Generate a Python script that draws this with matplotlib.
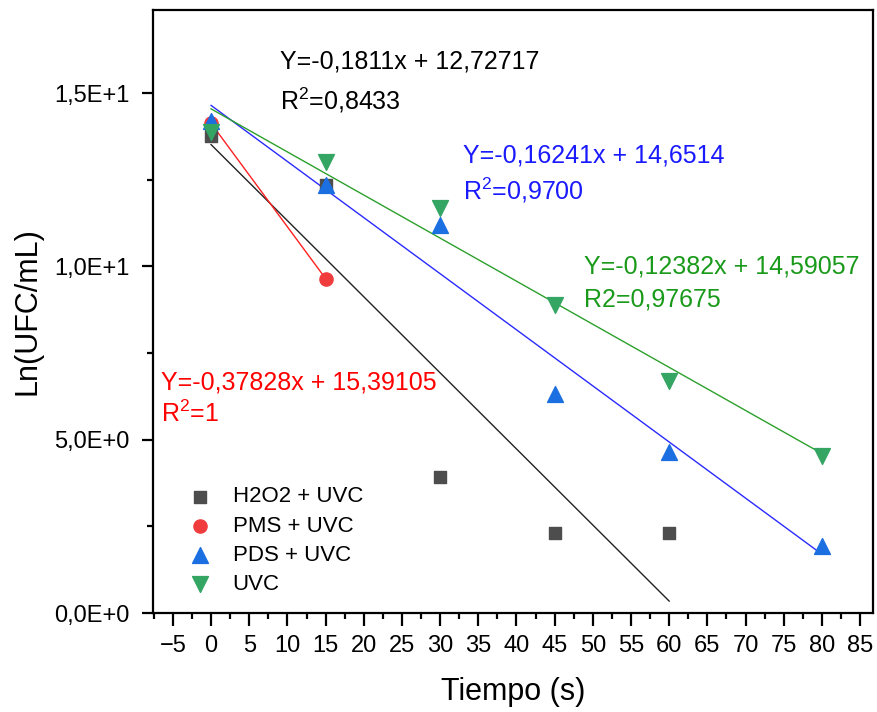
import numpy as np
import matplotlib
matplotlib.use("Agg")
from matplotlib import pyplot as plt
from matplotlib.ticker import MultipleLocator, FuncFormatter

plt.rcParams['font.family'] = ['Liberation Sans', 'DejaVu Sans']
plt.rcParams['mathtext.fontset'] = 'custom'
plt.rcParams['mathtext.rm'] = 'Liberation Sans'

# data
x_h2o2 = [0, 15, 30, 45, 60]
y_h2o2 = [13.76, 12.34, 3.93, 2.31, 2.31]

x_pms = [0, 15]
y_pms = [14.13, 9.65]

x_pds = [0, 15, 30, 45, 60, 80]
y_pds = [14.19, 12.34, 11.2, 6.33, 4.65, 1.94]

x_uvc = [0, 15, 30, 45, 60, 80]
y_uvc = [13.87, 13.0, 11.68, 8.9, 6.7, 4.54]

labels = ["H2O2 + UVC", "PMS + UVC", "PDS + UVC", "UVC"]

eq_h2o2 = ["Y=-0,1811x + 12,72717", "R$^2$=0,8433"]
eq_pms = ["Y=-0,37828x + 15,39105", "R$^2$=1"]
eq_pds = ["Y=-0,16241x + 14,6514", "R$^2$=0,9700"]
eq_uvc = ["Y=-0,12382x + 14,59057", "R2=0,97675"]

fig = plt.figure(figsize=(8.77, 7.12), dpi=100)
ax = fig.add_axes([0.1745, 0.139, 0.821, 0.847])

def fitline(x, y, color):
    p = np.polyfit(x, y, 1)
    xs = np.array([min(x), max(x)])
    ax.plot(xs, np.polyval(p, xs), color=color, lw=1.0, zorder=2)

fitline(x_h2o2, y_h2o2, "#222222")
ax.plot(x_pms, y_pms, color="#ff2020", lw=1.0, zorder=2)
fitline(x_pds, y_pds, "#2a2aff")
fitline(x_uvc, y_uvc, "#2ca02c")

ax.scatter(x_h2o2, y_h2o2, marker="s", s=80, color="#4d4d4d", label=labels[0], zorder=3)
ax.scatter(x_pms, y_pms, marker="o", s=90, color="#f03c3c", label=labels[1], zorder=3)
ax.scatter(x_pds, y_pds, marker="^", s=130, color="#1b6fe0", label=labels[2], zorder=3)
ax.scatter(x_uvc, y_uvc, marker="v", s=130, color="#34a563", label=labels[3], zorder=3)

fs = 18
ax.text(9.0, 15.9, eq_h2o2[0], color="black", fontsize=fs, va="center")
ax.text(9.0, 14.8, eq_h2o2[1], color="black", fontsize=fs, va="center")
ax.text(33.0, 13.2, eq_pds[0], color="#1a1aff", fontsize=fs, va="center")
ax.text(33.0, 12.2, eq_pds[1], color="#1a1aff", fontsize=fs, va="center")
ax.text(48.8, 10.0, eq_uvc[0], color="#1a9a1a", fontsize=fs, va="center")
ax.text(48.8, 9.05, eq_uvc[1], color="#1a9a1a", fontsize=fs, va="center")
ax.text(-6.6, 6.65, eq_pms[0], color="#ff0000", fontsize=fs, va="center")
ax.text(-6.6, 5.75, eq_pms[1], color="#ff0000", fontsize=fs, va="center")

ax.set_xlim(-7.6, 86.7)
ax.set_ylim(0, 17.4)
ax.xaxis.set_major_locator(MultipleLocator(5))
ax.xaxis.set_minor_locator(MultipleLocator(2.5))
ax.yaxis.set_major_locator(MultipleLocator(5))
ax.yaxis.set_minor_locator(MultipleLocator(2.5))

def sci(v, pos):
    if v == 0:
        return "0,0E+0"
    e = int(np.floor(np.log10(abs(v))))
    m = v / 10 ** e
    return ("%.1fE+%d" % (m, e)).replace(".", ",")

ax.yaxis.set_major_formatter(FuncFormatter(sci))

for s in ax.spines.values():
    s.set_linewidth(1.6)
ax.tick_params(which="major", length=8, width=1.6, labelsize=17)
ax.tick_params(axis="x", which="major", length=9, pad=7)
ax.tick_params(axis="y", which="major", pad=9)
ax.tick_params(which="minor", length=4, width=1.6)

ax.set_xlabel("Tiempo (s)", fontsize=22, labelpad=14)
ax.set_ylabel("Ln(UFC/mL)", fontsize=22, labelpad=8)

ax.legend(loc="upper left", bbox_to_anchor=(0.035, 0.21), frameon=False, fontsize=16,
          handletextpad=0.45, labelspacing=0.37, borderaxespad=0, borderpad=0)

fig.savefig("out.png", dpi=100)
